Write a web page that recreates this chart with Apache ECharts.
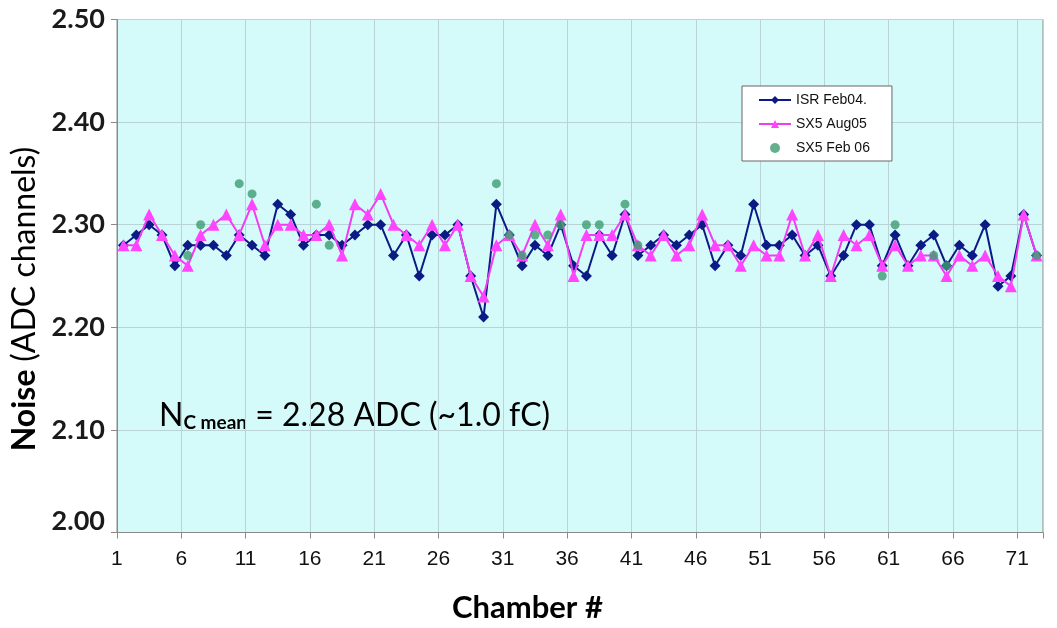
<!DOCTYPE html>
<html>
<head>
<meta charset="utf-8">
<script src="https://cdn.jsdelivr.net/npm/echarts@6/dist/echarts.min.js"></script>
<style>
  html, body { margin: 0; padding: 0; background: #ffffff; }
  #chart { width: 1057px; height: 628px; }
</style>
</head>
<body>
<div id="chart"></div>
<script>
// ---- data ----
const chambers = Array.from({ length: 72 }, (_, i) => String(i + 1));

const isrFeb04 = [
  2.28, 2.29, 2.30, 2.29, 2.26, 2.28, 2.28, 2.28, 2.27, 2.29,
  2.28, 2.27, 2.32, 2.31, 2.28, 2.29, 2.29, 2.28, 2.29, 2.30,
  2.30, 2.27, 2.29, 2.25, 2.29, 2.29, 2.30, 2.25, 2.21, 2.32,
  2.29, 2.26, 2.28, 2.27, 2.30, 2.26, 2.25, 2.29, 2.27, 2.31,
  2.27, 2.28, 2.29, 2.28, 2.29, 2.30, 2.26, 2.28, 2.27, 2.32,
  2.28, 2.28, 2.29, 2.27, 2.28, 2.25, 2.27, 2.30, 2.30, 2.26,
  2.29, 2.26, 2.28, 2.29, 2.26, 2.28, 2.27, 2.30, 2.24, 2.25,
  2.31, 2.27
];

const sx5Aug05 = [
  2.28, 2.28, 2.31, 2.29, 2.27, 2.26, 2.29, 2.30, 2.31, 2.29,
  2.32, 2.28, 2.30, 2.30, 2.29, 2.29, 2.30, 2.27, 2.32, 2.31,
  2.33, 2.30, 2.29, 2.28, 2.30, 2.28, 2.30, 2.25, 2.23, 2.28,
  2.29, 2.27, 2.30, 2.28, 2.31, 2.25, 2.29, 2.29, 2.29, 2.31,
  2.28, 2.27, 2.29, 2.27, 2.28, 2.31, 2.28, 2.28, 2.26, 2.28,
  2.27, 2.27, 2.31, 2.27, 2.29, 2.25, 2.29, 2.28, 2.29, 2.26,
  2.28, 2.26, 2.27, 2.27, 2.25, 2.27, 2.26, 2.27, 2.25, 2.24,
  2.31, 2.27
];

const sx5Feb06Chambers = [6, 7, 10, 11, 16, 17, 30, 31, 32, 33, 34, 35, 37, 38, 40, 41, 60, 61, 64, 65, 72];
const sx5Feb06Values   = [2.27, 2.30, 2.34, 2.33, 2.32, 2.28, 2.34, 2.29, 2.27, 2.29, 2.29, 2.30, 2.30, 2.30, 2.32, 2.28, 2.25, 2.30, 2.27, 2.26, 2.27];

const seriesNames = ['ISR Feb04.', 'SX5 Aug05', 'SX5 Feb 06'];
const yMin = 2.00, yMax = 2.50, yStep = 0.10;

// ---- chart ----
const chart = echarts.init(document.getElementById('chart'), null, { renderer: 'canvas' });

const tickFont = 'Lato, "Open Sans", "Liberation Sans", sans-serif';
const narrowFont = '"Liberation Sans Narrow", "Liberation Sans", Arial, sans-serif';

chart.setOption({
  animation: false,
  backgroundColor: '#ffffff',
  grid: {
    left: 117, top: 19.5, right: 14, bottom: 95.5,
    show: true,
    backgroundColor: '#d4fafa',
    borderColor: '#8a8a8a',
    borderWidth: 1
  },
  legend: {
    orient: 'vertical',
    left: 742, top: 86,
    data: seriesNames,
    backgroundColor: '#ffffff',
    borderColor: '#666666',
    borderWidth: 1,
    padding: [7, 22, 6, 16],
    itemWidth: 32, itemHeight: 10, itemGap: 10,
    textStyle: { fontFamily: '"Liberation Sans", Arial, sans-serif', fontSize: 14, color: '#111111' }
  },
  xAxis: {
    type: 'category',
    data: chambers,
    boundaryGap: true,
    axisLine: { show: true, lineStyle: { color: '#8a8a8a', width: 1 } },
    axisTick: { show: true, interval: 4, alignWithLabel: false, length: 6, lineStyle: { color: '#8a8a8a' } },
    axisLabel: {
      interval: 4, margin: 16,
      fontFamily: narrowFont, fontSize: 21, color: '#111111',
      padding: [0, 13, 0, 0]
    },
    splitLine: { show: true, interval: 4, lineStyle: { color: '#b9d3d6', width: 1 } }
  },
  yAxis: {
    type: 'value',
    min: yMin, max: yMax, interval: yStep,
    name: '{b|Noise }{r|(ADC channels)}',
    nameLocation: 'middle',
    nameRotate: 90,
    nameGap: 74,
    nameTextStyle: {
      padding: [0, 46, 0, 0],
      rich: {
        b: { fontFamily: tickFont, fontSize: 32, fontWeight: 'bold', color: '#000000' },
        r: { fontFamily: tickFont, fontSize: 32, color: '#000000' }
      }
    },
    axisLine: { show: true, lineStyle: { color: '#8a8a8a', width: 1 } },
    axisTick: { show: true, inside: false, length: 6, lineStyle: { color: '#8a8a8a' } },
    axisLabel: {
      margin: 12,
      fontFamily: tickFont, fontSize: 27, fontWeight: 'bold', color: '#1a1a1a',
      formatter: function (v) {
        return Math.abs(v - yMin) < 1e-9 ? '{low|' + v.toFixed(2) + '}' : v.toFixed(2);
      },
      rich: { low: { fontFamily: tickFont, fontSize: 27, fontWeight: 'bold', color: '#1a1a1a', padding: [0, 0, 22, 0] } }
    },
    splitLine: { show: true, lineStyle: { color: '#b9d3d6', width: 1 } }
  },
  graphic: [
    {
      type: 'text',
      left: 159, top: 389,
      style: {
        text: '{n|N}{s|C mean}{t| = 2.28 ADC (~1.0 fC)}',
        rich: {
          n: { fontFamily: tickFont, fontSize: 32, lineHeight: 32, color: '#000000', verticalAlign: 'top' },
          s: { fontFamily: tickFont, fontSize: 19, lineHeight: 19, fontWeight: 'bold', color: '#000000', padding: [24, 0, 0, 0], verticalAlign: 'bottom' },
          t: { fontFamily: tickFont, fontSize: 32, lineHeight: 32, color: '#000000', verticalAlign: 'top' }
        }
      }
    },
    {
      type: 'text',
      left: 452, top: 592,
      style: {
        text: 'Chamber #',
        fontFamily: tickFont, fontSize: 31, fontWeight: 'bold', fill: '#000000'
      }
    }
  ],
  series: [
    {
      name: seriesNames[0],
      type: 'line',
      data: isrFeb04,
      symbol: 'diamond',
      symbolSize: 11,
      showAllSymbol: true,
      lineStyle: { color: '#0c1a85', width: 2 },
      itemStyle: { color: '#0c1a85' },
      z: 2
    },
    {
      name: seriesNames[1],
      type: 'line',
      data: sx5Aug05,
      symbol: 'triangle',
      symbolSize: 12,
      showAllSymbol: true,
      lineStyle: { color: '#f23cf2', width: 2 },
      itemStyle: { color: '#ff45ff' },
      z: 3
    },
    {
      name: seriesNames[2],
      type: 'scatter',
      data: sx5Feb06Chambers.map((c, i) => [String(c), sx5Feb06Values[i]]),
      symbol: 'circle',
      symbolSize: 9,
      itemStyle: { color: '#3d9c72' },
      z: 4
    }
  ]
});
</script>
</body>
</html>
